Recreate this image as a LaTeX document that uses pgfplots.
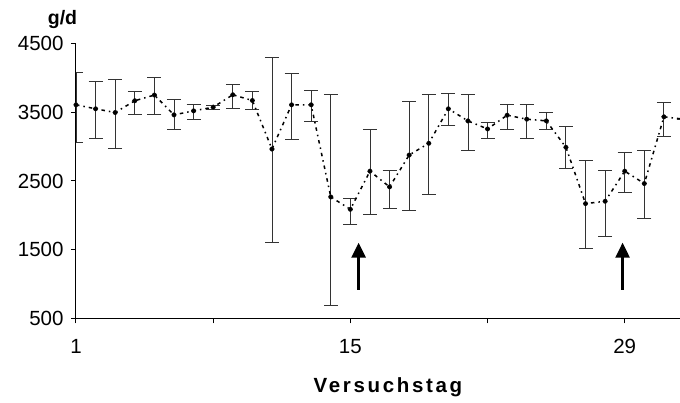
\documentclass[border=0pt]{standalone}
\usepackage{pgfplots}
\pgfplotsset{compat=1.18}
\usepackage{pgfplotstable}
\usepackage{fontspec}
\setmainfont{Liberation Sans}
\usetikzlibrary{arrows.meta}
\pgfplotstableread{
x y ep em
1 3608 472 541
2 3550 394 424
3 3496 478 516
4 3667 136 195
5 3750 253 278
6 3462 219 219
7 3520 93 131
8 3574 29 39
9 3754 157 194
10 3671 127 136
11 2965 1325 1364
12 3608 453 511
13 3608 215 248
14 2268 1496 1574
15 2088 156 220
16 2643 600 628
17 2414 239 316
18 2877 775 804
19 3048 716 741
20 3550 219 249
21 3374 390 424
22 3257 98 131
23 3457 161 214
24 3399 219 273
25 3374 127 131
26 2990 307 307
27 2171 629 658
28 2205 448 516
29 2643 274 311
30 2463 483 511
31 3433 214 282
32 3400 0 0
}\daten
\begin{document}
\begin{tikzpicture}
\begin{axis}[name=ax, scale only axis, width=604pt, height=275pt,
  xmin=1, xmax=31.82, ymin=500, ymax=4500,
  axis x line*=bottom, axis y line*=left,
  axis line style={line width=1pt,-},
  tick style={line width=1pt, black},
  major tick length=5pt, tick align=outside,
  xtick={1,8,15,22,29}, xticklabels={1,,15,,29},
  ytick={500,1500,2500,3500,4500},
  tick label style={font=\fontsize{20.5}{24}\selectfont},
  xticklabel style={yshift=-12pt},
  yticklabel style={xshift=-4pt},
  /pgf/number format/assume math mode=true,
  /pgf/number format/1000 sep={},
  clip=true]
\addplot[black!80, line width=0.9pt, only marks, mark=none,
  error bars/.cd, y dir=both, y explicit,
  error bar style={black!80, line width=0.9pt},
  error mark options={black!80, line width=0.9pt, mark size=7pt, rotate=90}]
  table[x=x, y=y, y error plus=ep, y error minus=em]{\daten};
\addplot[black, line width=1.5pt, dash pattern=on 3.5pt off 4pt on 1.5pt off 4pt,
  mark=*, mark size=1.5pt, mark options={solid}]
  table[x=x, y=y]{\daten};
\draw[line width=2.5pt, -{Triangle[width=14pt,length=15pt]}] (axis cs:15.42,915) -- (axis cs:15.42,1603);
\draw[line width=2.5pt, -{Triangle[width=14pt,length=15pt]}] (axis cs:28.89,915) -- (axis cs:28.89,1603);
\end{axis}
\node[anchor=base, font=\bfseries\fontsize{19.5}{23}\selectfont] at ([xshift=-13.5pt,yshift=18.5pt]ax.north west) {g/d};
\node[anchor=base, font=\bfseries\fontsize{20.5}{24}\selectfont\addfontfeature{LetterSpace=13}] at ([xshift=312pt,yshift=-74.5pt]ax.south west) {Versuchstag};
\pgfresetboundingbox
\useasboundingbox ([xshift=-76pt,yshift=-84.5pt]ax.south west) rectangle ([yshift=43.5pt]ax.north east);
\end{tikzpicture}
\end{document}
